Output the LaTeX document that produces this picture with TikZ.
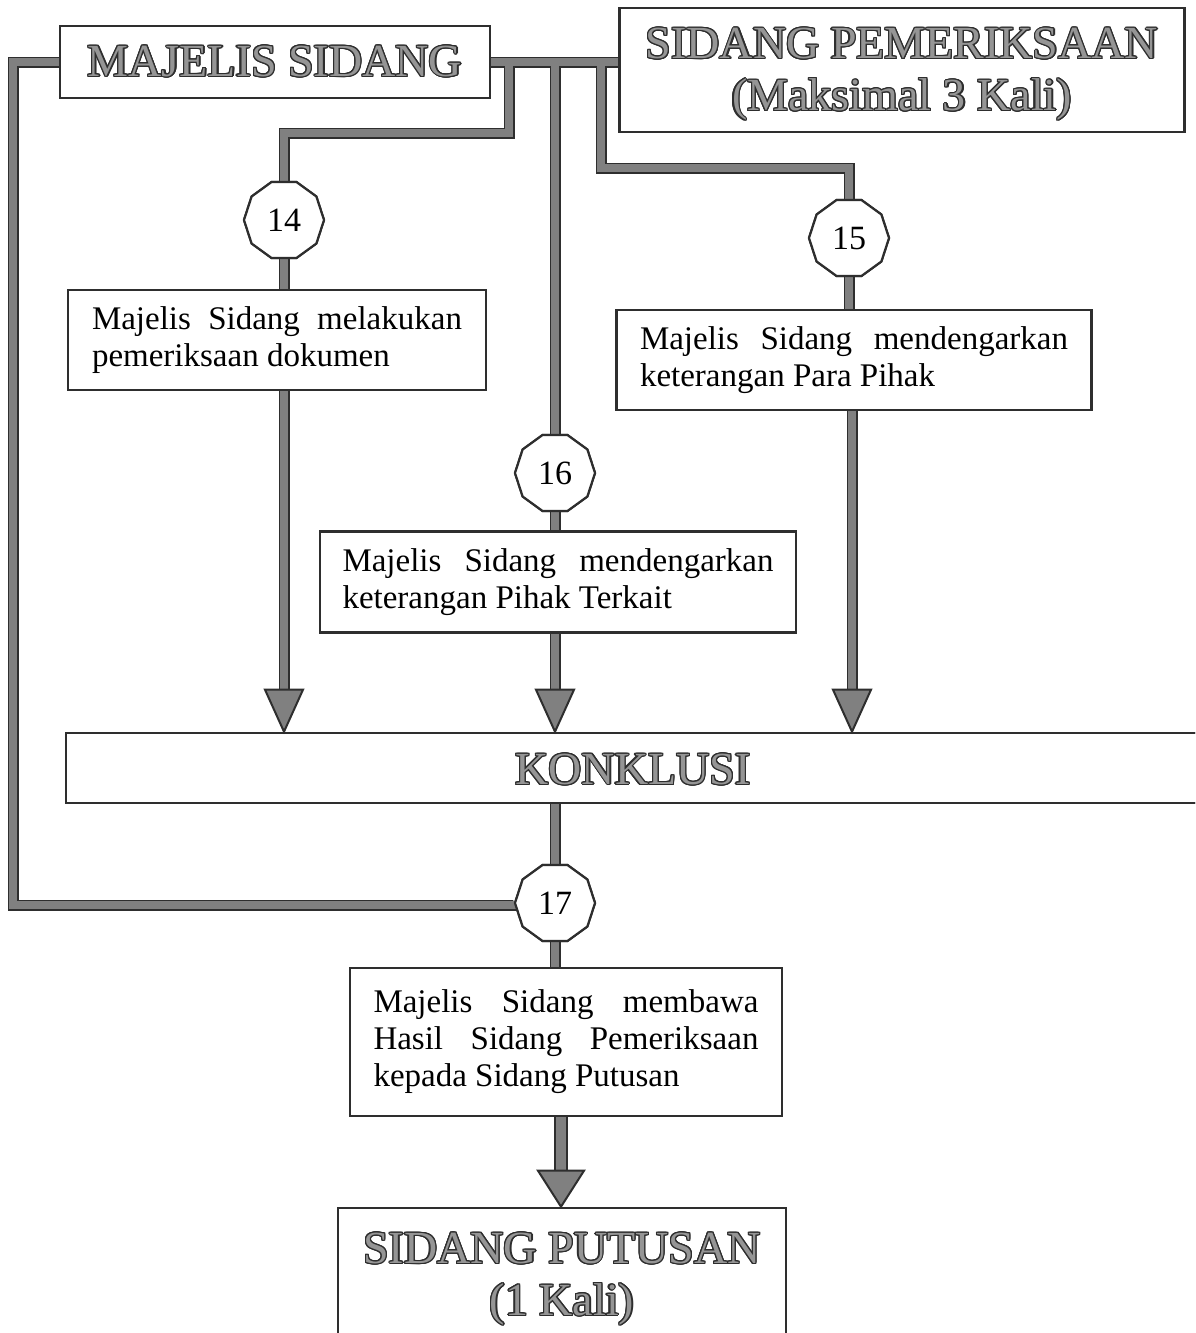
\documentclass[tikz,border=0pt]{standalone}
\usepackage{fontspec}
\setmainfont{Liberation Serif}
\usepackage[copies]{contour}
\contourlength{1.2pt}
\contournumber{16}
\usetikzlibrary{shapes.geometric,calc}
\definecolor{edge}{HTML}{2E2E2E}
\definecolor{fillg}{HTML}{808080}
\definecolor{titleg}{HTML}{959595}
\tikzset{
  box/.style={draw=edge, line width=2.6pt, fill=white, inner sep=0pt, align=justify},
  titlebox/.style={draw=edge, line width=2.6pt, fill=white, inner sep=0pt, align=center,
    font=\fontsize{46}{54}\selectfont},
  titletext/.style={inner sep=0pt, align=center, font=\fontsize{46}{54}\selectfont},
  numoct/.style={regular polygon, regular polygon sides=10, draw=edge, line width=2.2pt,
    fill=white, minimum size=80pt, inner sep=0pt, font=\fontsize{34}{34}\selectfont},
  connout/.style={draw=edge, line width=11pt},
  connin/.style={draw=fillg, line width=7.4pt},
  arrout/.style={draw=edge, line width=11pt},
  arrin/.style={draw=fillg, line width=7.4pt},
  bigout/.style={draw=edge, line width=14pt},
  bigin/.style={draw=fillg, line width=10.4pt},
  headst/.style={fill=fillg, draw=edge, line width=2pt, line join=miter},
}
\newcommand{\ttl}[1]{\textcolor{titleg}{\contour{edge}{#1}}}
\newcommand{\bodyfont}{\fontsize{33}{37}\selectfont}
\begin{document}
\begin{tikzpicture}[x=1pt,y=-1pt]
\useasboundingbox (0,0) rectangle (1195,1333);
\clip (0,0) rectangle (1195,1333);

% node positions (first pass, to get anchors)
\path
  (275,62) node[titlebox, minimum width=430pt, minimum height=72pt] (ms) {}
  (902,70) node[titlebox, minimum width=565pt, minimum height=124pt] (sp) {}
  (284,220) node[numoct] (o14) {}
  (849,238) node[numoct] (o15) {}
  (555,473) node[numoct] (o16) {}
  (555,903) node[numoct] (o17) {}
  (277,340) node[box, minimum width=418pt, minimum height=100pt] (b14) {}
  (854,360) node[box, minimum width=475pt, minimum height=100pt] (b15) {}
  (558,582) node[box, minimum width=476pt, minimum height=101pt] (b16) {}
  (636,768) node[box, minimum width=1140pt, minimum height=70pt] (k) {}
  (566,1042) node[box, minimum width=432pt, minimum height=148pt] (b17) {}
  (562,1280) node[box, minimum width=448pt, minimum height=144pt] (pu) {};

\coordinate (L1) at (13,62);
\coordinate (L2) at (13,905);
\coordinate (j1) at (509,62);
\coordinate (j1b) at (509,133);
\coordinate (j2) at (555,62);
\coordinate (j3) at (601,62);
\coordinate (j3b) at (601,168);

\newcommand{\connpaths}[1]{%
  \draw[#1, line join=miter] (ms.west) -- (L1) -- (L2) -- (L2 -| o17.west) -- (o17.west);
  \draw[#1] (ms.east) -- (sp.west |- ms.east);
  \draw[#1, line join=miter] (j1) -- (j1b) -- (j1b -| o14.north) -- (o14.north);
  \draw[#1] (j2) -- (o16.north);
  \draw[#1, line join=miter] (j3) -- (j3b) -- (j3b -| o15.north) -- (o15.north);
  \draw[#1] (o14.south) -- (o14.south |- b14.north);
  \draw[#1] (o15.south) -- (o15.south |- b15.north);
  \draw[#1] (o16.south) -- (o16.south |- b16.north);
  \draw[#1] (k.south -| o17.north) -- (o17.north);
  \draw[#1] (o17.south) -- (o17.south |- b17.north);
}
\connpaths{connout}
\connpaths{connin}

\newcommand{\arrpaths}[1]{%
  \draw[#1] (b14.south -| o14.south) -- ($(k.north -| o14.south)+(0,-40)$);
  \draw[#1] (b16.south -| o16.south) -- ($(k.north -| o16.south)+(0,-40)$);
  \draw[#1] (b15.south -| 852,0) -- ($(k.north -| 852,0)+(0,-40)$);
}
\arrpaths{arrout}
\arrpaths{arrin}
\draw[bigout] (b17.south -| 561,0) -- ($(pu.north -| 561,0)+(0,-34)$);
\draw[bigin] (b17.south -| 561,0) -- ($(pu.north -| 561,0)+(0,-34)$);

% nodes drawn over connectors
\node[titlebox, minimum width=430pt, minimum height=72pt] at (ms) {\ttl{MAJELIS SIDANG}};
\node[titlebox, minimum width=565pt, minimum height=124pt] at (sp) {};
\node[titletext] (sptxt) at ($(sp.center)+(0,5)$)
  {\ttl{SIDANG PEMERIKSAAN}\\[-2pt]\ttl{(Maksimal 3 Kali)}};
\node[numoct] at (o14) {14};
\node[numoct] at (o15) {15};
\node[numoct] at (o16) {16};
\node[numoct] at (o17) {17};
\node[box, minimum width=418pt, minimum height=100pt] at (b14)
  {\parbox{370pt}{\bodyfont Majelis Sidang melakukan\linebreak pemeriksaan dokumen}};
\node[box, minimum width=475pt, minimum height=100pt] at (b15)
  {\parbox{428pt}{\bodyfont Majelis Sidang mendengarkan\linebreak keterangan Para Pihak}};
\node[box, minimum width=476pt, minimum height=101pt] at (b16)
  {\parbox{431pt}{\bodyfont Majelis Sidang mendengarkan\linebreak keterangan Pihak Terkait}};
\node[titlebox, minimum width=1140pt, minimum height=70pt] at (k) {};
\node[titletext] (ktxt) at (633,770) {\ttl{KONKLUSI}};
\node[box, minimum width=432pt, minimum height=148pt] at (b17)
  {\parbox{385pt}{\bodyfont Majelis Sidang membawa\linebreak Hasil Sidang Pemeriksaan\linebreak kepada Sidang Putusan}};
\node[titlebox, minimum width=448pt, minimum height=144pt] at (pu) {};
\node[titletext, anchor=north] (putxt) at ($(pu.north)+(0,26)$)
  {\ttl{SIDANG PUTUSAN}\\[-2pt]\ttl{(1 Kali)}};

% arrow heads
\foreach \xx/\nm in {284/a14,555/a16,852/a15}{
  \path (k.north -| \xx,0) coordinate (\nm);
  \filldraw[headst] (\nm) -- ++(-19,-42) -- ++(38,0) -- cycle;
}
\path (pu.north -| 561,0) coordinate (apu);
\filldraw[headst] (apu) -- ++(-23,-36) -- ++(46,0) -- cycle;
\end{tikzpicture}
\end{document}
